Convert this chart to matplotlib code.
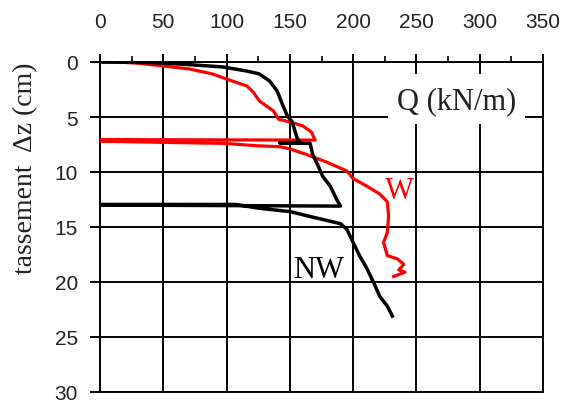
import matplotlib
matplotlib.use("Agg")
import matplotlib.pyplot as plt
from matplotlib.ticker import MultipleLocator
from matplotlib.patches import Rectangle

# Data: W curve (red)
w_q = [0, 13, 29, 50, 71, 89, 100, 116, 121, 126, 137, 141, 150, 160, 167, 170,
       0, 0, 47, 99, 122, 142, 150, 163, 179, 195, 200, 211, 221, 227, 228, 227,
       224, 227, 235, 240, 236, 241, 232]
w_z = [0, 0.0, 0.1, 0.36, 0.64, 1.09, 1.55, 2.18, 2.73, 3.55, 4.45, 5.2, 5.45, 5.8, 6.36, 7.1,
       7.05, 7.2, 7.3, 7.4, 7.6, 7.7, 7.9, 8.4, 9.1, 9.9, 10.6, 11.3, 12.0, 12.7, 14.0, 15.5,
       16.4, 17.6, 17.9, 18.4, 18.9, 19.1, 19.5]

# Data: NW curve (black)
nw_q = [0, 40, 63, 97, 116, 126, 134, 140, 144, 148, 152, 154, 156, 158, 142, 166,
        168, 171, 176, 182, 187, 190, 0, 0, 107, 126, 150, 168, 190, 195, 200, 205,
        211, 216, 221, 227, 231]
nw_z = [0, 0.05, 0.18, 0.45, 0.82, 1.09, 1.73, 2.64, 3.82, 4.9, 5.45, 6.27, 7.0, 7.3, 7.36, 7.4,
        8.4, 9.1, 10.4, 11.3, 12.5, 13.1, 13.0, 12.95, 12.95, 13.3, 13.6, 14.1, 14.7, 15.2, 16.4, 17.6,
        18.8, 20.0, 21.3, 22.2, 23.1]

x_ticks = [0, 50, 100, 150, 200, 250, 300, 350]
y_ticks = [0, 5, 10, 15, 20, 25, 30]

tick_font = ['Liberation Sans', 'DejaVu Sans']
serif = ['Liberation Serif', 'DejaVu Serif']

fig = plt.figure(figsize=(5.62, 4.06), dpi=100)
ax = fig.add_axes([100/562, 1-393/406, 443/562, 330/406])

ax.plot(w_q, w_z, color='#ff0000', lw=2.3, zorder=3)
ax.plot(nw_q, nw_z, color='black', lw=2.5, zorder=4)

ax.set_xlim(0, 350)
ax.set_ylim(30, 0)
ax.xaxis.tick_top()
ax.set_xticks(x_ticks)
ax.set_yticks(y_ticks)
ax.xaxis.set_minor_locator(MultipleLocator(25))
ax.grid(True, which='major', color='black', lw=1.4)
ax.set_axisbelow(True)
for s in ax.spines.values():
    s.set_linewidth(1.4)
ax.tick_params(axis='x', which='major', length=6, width=1.4, pad=16, top=True, bottom=False)
ax.tick_params(axis='x', which='minor', length=4, width=1.2, top=True, bottom=False)
ax.tick_params(axis='y', which='major', length=7, width=1.4, pad=9)
for lab in ax.get_xticklabels() + ax.get_yticklabels():
    lab.set_family(tick_font)
    lab.set_fontsize(15)
    lab.set_color('#222222')

ax.set_ylabel('tassement  \u0394z (cm)', family=serif, fontsize=20, color='#222222')
ax.yaxis.set_label_coords(-0.14, 0.68)

ax.add_patch(Rectangle((0.650, 0.812), 0.309, 0.152, transform=ax.transAxes,
                       facecolor='white', edgecolor='none', zorder=2.5))
ax.text(0.806, 0.882, 'Q (kN/m)', transform=ax.transAxes, ha='center', va='center',
        family=serif, fontsize=22, color='#222222', zorder=5)
ax.text(0.676, 0.612, 'W', transform=ax.transAxes, ha='center', va='center',
        family=serif, fontsize=22, color='#ff0000', zorder=5)
ax.text(0.494, 0.370, 'NW', transform=ax.transAxes, ha='center', va='center',
        family=serif, fontsize=22, color='black', zorder=5)

fig.savefig('out.png', dpi=100)
